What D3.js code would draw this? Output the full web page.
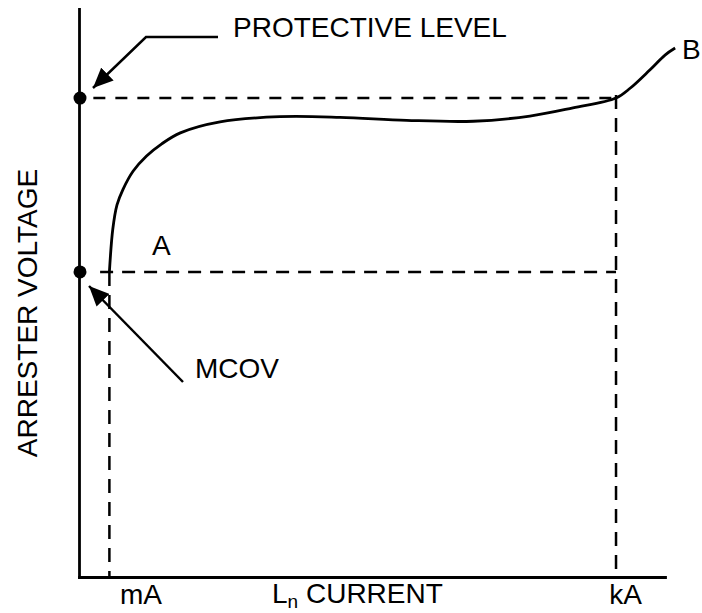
<!DOCTYPE html>
<html>
<head>
<meta charset="utf-8">
<script src="https://cdn.jsdelivr.net/npm/d3@7"></script>
<style>
  body { margin: 0; background: #fff; }
  text { font-family: "Liberation Sans", Arial, sans-serif; fill: #000; }
</style>
</head>
<body>
<div class="chart"></div>
<script>
// V-I curve of the arrester, x = log10(current in A), y = voltage in per unit of MCOV
var curveLogI = [-3.0, -2.96, -2.91, -2.84, -2.72, -2.56, -2.38, -2.16, -1.69, -0.98, -0.27, 0.52, 1.31, 1.98, 2.49, 3.0, 3.17, 3.4, 3.58, 3.7];
var curveVolt = [1.0, 1.14, 1.22, 1.27, 1.33, 1.38, 1.42, 1.456, 1.492, 1.509, 1.507, 1.497, 1.494, 1.511, 1.538, 1.57, 1.603, 1.662, 1.711, 1.734];

// reference levels
var mcovLevel = 1.0;
var protectiveLevel = 1.57;

// current tick labels
var currentTicks = [-3, 3];
var currentTickLabels = ["mA", "kA"];

// svg container
var svgWidth = 702;
var svgHeight = 613;

var svg = d3.select(".chart")
  .append("svg")
  .attr("width", svgWidth)
  .attr("height", svgHeight);

// scales
var xScale = d3.scaleLinear().domain([-3.36, 3.58]).range([79, 665]);
var yScale = d3.scaleLinear().domain([0, 1.862]).range([577, 9]);

var fontSize = 28;

// arrow head marker
svg.append("defs").append("marker")
  .attr("id", "head")
  .attr("markerUnits", "userSpaceOnUse")
  .attr("viewBox", "0 -9 20 18")
  .attr("refX", 20)
  .attr("refY", 0)
  .attr("markerWidth", 20)
  .attr("markerHeight", 18)
  .attr("orient", "auto")
  .append("path")
  .attr("d", "M0,-9L20,0L0,9Z")
  .attr("fill", "#000");

// x axis with mA / kA labels
var xAxis = svg.append("g")
  .attr("transform", `translate(0, ${yScale(0)})`)
  .call(d3.axisBottom(xScale)
    .tickValues(currentTicks)
    .tickFormat((d, i) => currentTickLabels[i])
    .tickSize(0)
    .tickSizeOuter(0)
    .tickPadding(7));

xAxis.selectAll("text")
  .attr("font-size", fontSize)
  .attr("font-family", null)
  .attr("dx", (d, i) => i === 0 ? 31 : 9);

// y axis, just the line
var yAxis = svg.append("g")
  .attr("transform", `translate(${xScale.range()[0]}, 0)`)
  .call(d3.axisLeft(yScale).tickValues([]).tickSizeOuter(0));

svg.selectAll(".domain")
  .attr("stroke", "#000")
  .attr("stroke-width", 2.8)
  .attr("stroke-linecap", "square");

// dashed guide lines
var guides = [
  { x1: -3.19, y1: protectiveLevel, x2: 3.0, y2: protectiveLevel, dash: "12,10" },
  { x1: -3.11, y1: mcovLevel, x2: 3.0, y2: mcovLevel, dash: "13,9" },
  { x1: -3.0, y1: mcovLevel, x2: -3.0, y2: 0, dash: "14,9" },
  { x1: 3.0, y1: protectiveLevel + 0.01, x2: 3.0, y2: 0, dash: "14,9" }
];

svg.append("g").selectAll("line")
  .data(guides)
  .enter()
  .append("line")
  .attr("x1", d => xScale(d.x1))
  .attr("y1", d => yScale(d.y1))
  .attr("x2", d => xScale(d.x2))
  .attr("y2", d => yScale(d.y2))
  .attr("stroke", "#000")
  .attr("stroke-width", 2.5)
  .attr("stroke-dasharray", d => d.dash);

// the curve
var line = d3.line()
  .x(d => xScale(d[0]))
  .y(d => yScale(d[1]))
  .curve(d3.curveCatmullRom.alpha(0.5));

svg.append("path")
  .datum(d3.zip(curveLogI, curveVolt))
  .attr("d", line)
  .attr("fill", "none")
  .attr("stroke", "#000")
  .attr("stroke-width", 2.8);

// dots on the voltage axis
svg.append("g").selectAll("circle")
  .data([protectiveLevel, mcovLevel])
  .enter()
  .append("circle")
  .attr("cx", xScale.range()[0] + 1)
  .attr("cy", d => yScale(d))
  .attr("r", 6.5)
  .attr("fill", "#000");

// arrows
svg.append("path")
  .attr("d", "M218,37H146L93,88")
  .attr("fill", "none")
  .attr("stroke", "#000")
  .attr("stroke-width", 2.5)
  .attr("marker-end", "url(#head)");

svg.append("path")
  .attr("d", "M183,382L89,286")
  .attr("fill", "none")
  .attr("stroke", "#000")
  .attr("stroke-width", 2.5)
  .attr("marker-end", "url(#head)");

// labels
svg.append("text")
  .attr("x", 233).attr("y", 37)
  .attr("font-size", fontSize)
  .text("PROTECTIVE LEVEL");

svg.append("text")
  .attr("x", 195).attr("y", 378)
  .attr("font-size", fontSize)
  .text("MCOV");

svg.append("text")
  .attr("x", 152).attr("y", 255)
  .attr("font-size", fontSize)
  .text("A");

svg.append("text")
  .attr("x", 682).attr("y", 59)
  .attr("font-size", fontSize)
  .text("B");

// x axis title with subscript
var xTitle = svg.append("text")
  .attr("x", 272).attr("y", 603)
  .attr("font-size", fontSize);
xTitle.append("tspan").text("L");
xTitle.append("tspan").attr("font-size", 19).attr("dy", 5).text("n");
xTitle.append("tspan").attr("dy", -5).text(" CURRENT");

// y axis title
svg.append("text")
  .attr("transform", "rotate(-90)")
  .attr("x", -313)
  .attr("y", 37)
  .attr("text-anchor", "middle")
  .attr("font-size", fontSize)
  .text("ARRESTER VOLTAGE");
</script>
</body>
</html>
